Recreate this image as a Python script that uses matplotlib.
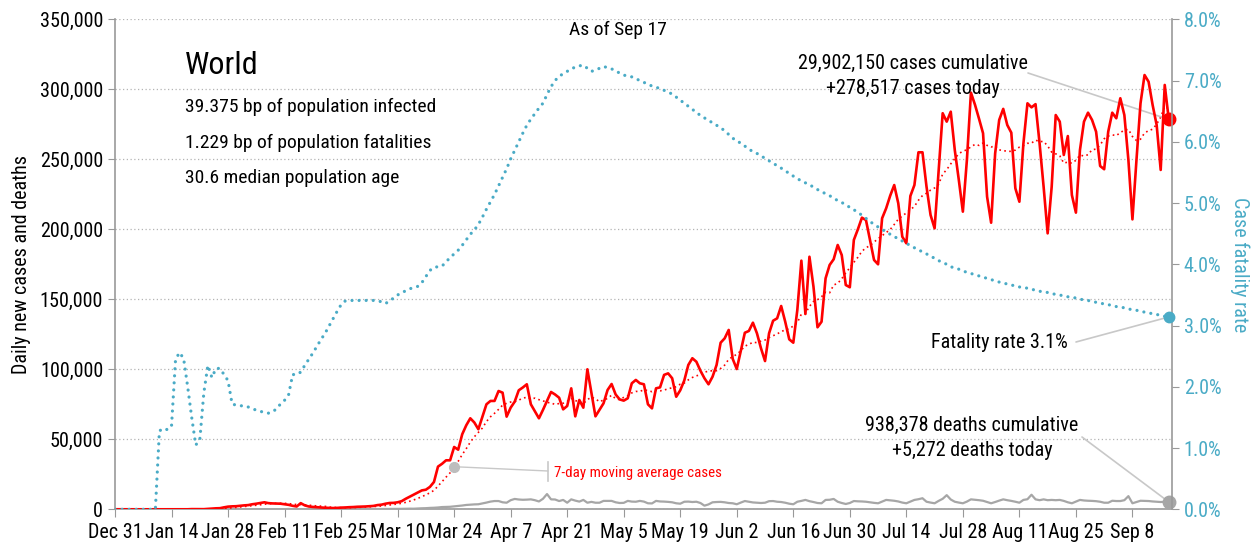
import pandas as pd
from matplotlib import pyplot as plt
from matplotlib.lines import Line2D
from matplotlib.ticker import FuncFormatter

plt.rcParams['font.family'] = ['Roboto Condensed', 'DejaVu Sans']

W, H = 1257, 546
RED = '#ff0000'
TEAL = '#4aabc6'
GRAY = '#a6a6a6'
LINE = '#c8c8c8'

# 每日新增病例 (Dec 31 .. Sep 17)
cases = [
    27, 0, 0, 17, 0, 15, 0, 0, 0, 0, 0, 0, 0, 0, 0, 0, 0, 4, 17, 136,
    150, 150, 100, 300, 500, 700, 800, 1400, 1900, 2100,
    2200, 2500, 2800, 3000, 3600, 4000, 4500, 5000, 4400, 4200,
    4100, 4000, 3600, 3200, 2500, 2000, 4400, 2800, 2000, 1700,
    1500, 1300, 1100, 1000, 900, 1000, 1200, 1300, 1500, 1600,
    1800, 1900, 2000, 2200, 2400, 3000, 3300, 4000, 4500, 4600,
    5000, 5800, 7500, 9000, 10500, 12000, 13500, 14000, 16000, 19500,
    30500, 32500, 35000, 35000, 44500, 42600, 53600, 60000, 65000, 62000,
    57200, 66000, 75000, 77400, 77400, 84500, 83300, 66200, 72600, 76900,
    85000, 87000, 89300, 75000, 70000, 65000, 71000, 77400, 83800, 82000,
    79700, 71400, 73800, 86400, 66400, 78100, 72600, 100000, 83000, 66400,
    71000, 75700, 85200, 89500, 82000, 78500, 77600, 79300, 90000, 92400,
    90000, 89300, 75000, 72100, 86400, 87100, 96000, 97100, 93600, 80400,
    85000, 92000, 103100, 107900, 105400, 99000, 93600, 89300, 94700, 103100,
    119000, 122100, 128100, 107400, 100200, 113000, 126100, 127400, 133300, 125700,
    115000, 105900, 125700, 134700, 136400, 145200, 134000, 121400, 119000, 142400,
    177600, 139500, 180400, 159000, 130000, 134000, 165000, 174500, 178600, 188800,
    181600, 160200, 158600, 192400, 200000, 208300, 206600, 192400, 178100, 175000,
    207900, 215000, 224000, 231600, 218600, 194700, 190000, 223800, 231600, 255000,
    255000, 230400, 210200, 200700, 242000, 282900, 276900, 284000, 256600, 235200,
    212600, 249500, 297600, 289000, 279000, 268600, 223300, 204700, 254300, 278100,
    286000, 274500, 269000, 229300, 219700, 261400, 290000, 287100, 289400, 261400,
    230400, 197100, 230400, 281600, 276900, 253100, 266600, 224500, 211900, 256600,
    276900, 283300, 278100, 269700, 245200, 242900, 269700, 283300, 279300, 293600,
    281600, 249500, 207100, 249500, 290000, 310200, 305400, 288800, 274500, 242400,
    303100, 278517,
]

# 每日新增死亡
deaths = [
    0, 0, 0, 0, 0, 0, 0, 0, 0, 0, 0, 1, 0, 0, 0, 0, 0, 1, 0, 0,
    3, 3, 9, 8, 16, 15, 24, 26, 26, 38,
    43, 46, 45, 57, 64, 66, 73, 73, 86, 89,
    97, 108, 97, 254, 13, 143, 142, 105, 98, 139,
    112, 118, 109, 97, 150, 71, 52, 29, 44, 37,
    58, 65, 55, 73, 98, 108, 110, 200, 230, 220,
    300, 330, 400, 450, 420, 600, 720, 800, 1000, 1100,
    1300, 1600, 1700, 1800, 2100, 2400, 2700, 3100, 3300, 3500,
    3600, 4200, 4800, 5500, 5900, 5900, 5000, 4700, 6500, 7400,
    7000, 6800, 6900, 7100, 6500, 5600, 7500, 10900, 7100, 7000,
    5900, 6700, 4700, 7100, 6200, 5500, 6700, 4700, 5300, 4700,
    4700, 6000, 6000, 6000, 5000, 4500, 4600, 6000, 5500, 5400,
    6000, 5500, 4300, 4200, 6000, 5600, 5500, 5300, 5000, 4300,
    4000, 5400, 5500, 5200, 5400, 4500, 2600, 3500, 5000, 5200,
    5300, 5000, 4500, 4300, 3600, 4800, 5900, 5400, 4900, 4700,
    4500, 4700, 5800, 5900, 5400, 5200, 4700, 4000, 3600, 5400,
    6000, 6700, 5800, 5200, 4500, 4300, 6700, 6800, 7400, 5400,
    4500, 3800, 4500, 5900, 5700, 5600, 5400, 5000, 4600, 4300,
    5500, 6700, 6400, 6100, 5600, 4800, 4300, 5500, 6700, 7200,
    7900, 5400, 4800, 4300, 6000, 7500, 10100, 7000, 5400, 4800,
    4300, 5500, 7100, 6800, 6500, 6100, 5200, 4300, 5200, 6200,
    7100, 6500, 6000, 5400, 4700, 6700, 7200, 10400, 7100, 6500,
    7100, 6500, 6700, 6500, 6700, 6000, 5000, 4300, 5500, 6700,
    6300, 6100, 6000, 5800, 5400, 4700, 4700, 6100, 5900, 5900,
    6500, 9400, 4300, 5200, 6100, 6000, 5900, 5600, 5400, 5200,
    5400, 5272,
]

# 病死率 (%)
fatality = [
    0, 0, 0, 0, 0, 0, 0, 0, 0, 0,
    0, 1.28, 1.32, 1.30, 1.36, 2.45, 2.56, 2.46, 2.00, 1.50,
    1.05, 1.13, 1.90, 2.35, 2.15, 2.30, 2.30, 2.20, 2.10, 1.72,
    1.70, 1.69, 1.69, 1.67, 1.64, 1.62, 1.60, 1.58, 1.57, 1.59,
    1.64, 1.72, 1.78, 1.87, 2.20, 2.20, 2.24, 2.35, 2.45, 2.55,
    2.66, 2.77, 2.87, 2.99, 3.11, 3.23, 3.34, 3.40, 3.41, 3.41,
    3.41, 3.41, 3.41, 3.41, 3.41, 3.40, 3.39, 3.36, 3.40, 3.45,
    3.50, 3.53, 3.57, 3.60, 3.62, 3.64, 3.70, 3.80, 3.90, 3.95,
    3.96, 3.97, 4.04, 4.11, 4.17, 4.23, 4.31, 4.40, 4.49, 4.56,
    4.65, 4.77, 4.90, 5.02, 5.14, 5.28, 5.42, 5.56, 5.72, 5.86,
    6.00, 6.14, 6.27, 6.37, 6.46, 6.55, 6.63, 6.77, 6.90, 7.00,
    7.07, 7.11, 7.15, 7.19, 7.22, 7.24, 7.25, 7.20, 7.15, 7.17,
    7.20, 7.23, 7.21, 7.19, 7.16, 7.12, 7.09, 7.07, 7.06, 7.03,
    7.00, 6.97, 6.94, 6.91, 6.89, 6.87, 6.84, 6.81, 6.78, 6.73,
    6.68, 6.63, 6.58, 6.53, 6.48, 6.43, 6.39, 6.35, 6.31, 6.27,
    6.23, 6.18, 6.12, 6.06, 6.01, 5.98, 5.93, 5.88, 5.84, 5.81,
    5.77, 5.73, 5.69, 5.65, 5.61, 5.57, 5.53, 5.48, 5.44, 5.40,
    5.36, 5.33, 5.30, 5.26, 5.22, 5.19, 5.15, 5.12, 5.08, 5.04,
    5.01, 4.97, 4.93, 4.89, 4.85, 4.80, 4.75, 4.70, 4.65, 4.61,
    4.57, 4.53, 4.49, 4.45, 4.42, 4.38, 4.34, 4.31, 4.27, 4.24,
    4.20, 4.17, 4.13, 4.10, 4.06, 4.03, 4.00, 3.96, 3.94, 3.92,
    3.89, 3.87, 3.85, 3.83, 3.81, 3.79, 3.77, 3.75, 3.73, 3.71,
    3.69, 3.68, 3.66, 3.65, 3.63, 3.62, 3.61, 3.59, 3.58, 3.56,
    3.55, 3.54, 3.52, 3.51, 3.50, 3.48, 3.47, 3.46, 3.45, 3.43,
    3.42, 3.41, 3.39, 3.38, 3.37, 3.35, 3.34, 3.33, 3.31, 3.30,
    3.29, 3.27, 3.26, 3.25, 3.23, 3.22, 3.21, 3.19, 3.18, 3.17,
    3.15, 3.14,
]

tick_labels = ['Dec 31', 'Jan 14', 'Jan 28', 'Feb 11', 'Feb 25', 'Mar 10', 'Mar 24',
               'Apr 7', 'Apr 21', 'May 5', 'May 19', 'Jun 2', 'Jun 16', 'Jun 30',
               'Jul 14', 'Jul 28', 'Aug 11', 'Aug 25', 'Sep 8']

days = list(range(len(cases)))
ma = pd.Series(cases).rolling(7, min_periods=1).mean()
last = days[-1]


def fpx(x, y):
    # 像素坐标 -> figure 坐标
    return x / W, 1 - y / H


fig = plt.figure(figsize=(W / 100, H / 100), dpi=100)
ax = fig.add_axes([115 / W, 1 - 509.3 / H, (1172 - 115) / W, (509.3 - 19.3) / H])

ax.plot(days, deaths, color=GRAY, lw=1.6, zorder=3)
ax.plot(days, ma, color=RED, lw=1.2, linestyle=(0, (1, 2)), zorder=3)
ax.plot(days, cases, color=RED, lw=1.9, zorder=4)
ax.plot(last, cases[-1], 'o', color=RED, ms=9, zorder=5, clip_on=False)
ax.plot(last, deaths[-1], 'o', color=GRAY, ms=9, zorder=5, clip_on=False)

ax.set_xlim(0, 261.8)
ax.set_ylim(0, 350000)
ax.set_yticks(range(0, 350001, 50000))
ax.yaxis.set_major_formatter(FuncFormatter(lambda v, p: f'{v:,.0f}'))
ax.set_xticks(range(0, 253, 14))
ax.set_xticklabels(tick_labels)
ax.grid(axis='y', color='#b4b4b4', linestyle=(0, (1, 2)), lw=0.9)
ax.set_axisbelow(True)
ax.tick_params(axis='both', labelsize=14.5, colors='#999999', labelcolor='black', length=5)
ax.tick_params(axis='x', length=6, pad=4)
for s in ['left', 'bottom']:
    ax.spines[s].set_color('#999999')
    ax.spines[s].set_linewidth(1.2)
ax.spines['top'].set_visible(False)
ax.spines['right'].set_visible(False)
ax.set_ylabel('Daily new cases and deaths', fontsize=14.5, labelpad=6)

# 右轴: 病死率
ax2 = ax.twinx()
ax2.plot(days, fatality, color=TEAL, lw=2.3, linestyle=(0, (0.01, 2.2)),
         dash_capstyle='round', zorder=3)
ax2.plot(last, fatality[-1], 'o', color=TEAL, ms=7.5, zorder=5, clip_on=False)
ax2.set_ylim(0, 8)
ax2.set_yticks(range(0, 9))
ax2.yaxis.set_major_formatter(FuncFormatter(lambda v, p: f'{v:.1f}%'))
ax2.tick_params(axis='y', labelsize=14.5, colors='#999999', labelcolor=TEAL, length=5)
ax2.spines['right'].set_color('#999999')
ax2.spines['right'].set_linewidth(1.2)
for s in ['top', 'left', 'bottom']:
    ax2.spines[s].set_visible(False)
ax2.set_ylabel('Case fatality rate', fontsize=14.5, color=TEAL, rotation=270, labelpad=20)

# 文字说明
fig.text(*fpx(185, 66), 'World', fontsize=23, va='center')
fig.text(*fpx(185, 107), '39.375 bp of population infected', fontsize=14, va='center')
fig.text(*fpx(185, 143), '1.229 bp of population fatalities', fontsize=14, va='center')
fig.text(*fpx(185, 178), '30.6 median population age', fontsize=14, va='center')
fig.text(*fpx(618, 30), 'As of Sep 17', fontsize=14, ha='center', va='center')

fig.text(*fpx(913, 63), '29,902,150 cases cumulative', fontsize=14.5, ha='center', va='center')
fig.text(*fpx(913, 88), '+278,517 cases today', fontsize=14.5, ha='center', va='center')
ax.annotate('', xy=(last, cases[-1]), xytext=(1028, H - 73), textcoords='figure pixels',
            arrowprops=dict(arrowstyle='-', color=LINE, lw=1.2, shrinkA=0, shrinkB=0))

fig.text(*fpx(1068, 342), 'Fatality rate 3.1%', fontsize=14.5, ha='right', va='center')
ax2.annotate('', xy=(last, fatality[-1]), xytext=(1076, H - 342), textcoords='figure pixels',
             arrowprops=dict(arrowstyle='-', color=LINE, lw=1.2, shrinkA=0, shrinkB=0))

fig.text(*fpx(972, 425), '938,378 deaths cumulative', fontsize=14.5, ha='center', va='center')
fig.text(*fpx(972, 450), '+5,272 deaths today', fontsize=14.5, ha='center', va='center')
ax.annotate('', xy=(last, deaths[-1]), xytext=(1082, H - 437), textcoords='figure pixels',
            arrowprops=dict(arrowstyle='-', color=LINE, lw=1.2, shrinkA=0, shrinkB=0))

# 7日均线标注
ax.plot(84, ma[84], 'o', color='#bdbdbd', ms=7, zorder=6)
ax.annotate('', xy=(84, ma[84]), xytext=(548, H - 471), textcoords='figure pixels',
            arrowprops=dict(arrowstyle='-', color=LINE, lw=1, shrinkA=0, shrinkB=0))
fig.add_artist(Line2D([548 / W, 548 / W], [1 - 462 / H, 1 - 481 / H],
                      transform=fig.transFigure, color=LINE, lw=1.2))
fig.text(*fpx(554, 473), '7-day moving average cases', fontsize=10.8, color=RED, va='center')

fig.savefig('out.png', dpi=100)
